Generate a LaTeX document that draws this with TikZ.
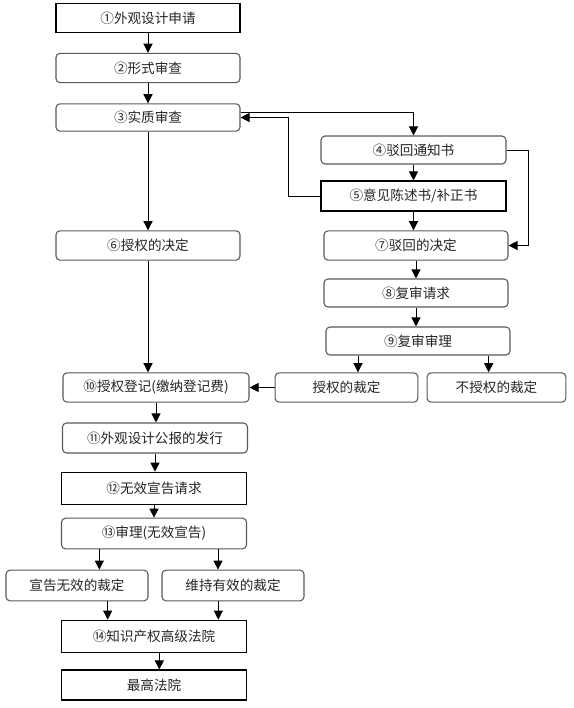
\documentclass[tikz,border=0pt]{standalone}
\usepackage{fontspec}
\newfontfamily\cjk{Noto Sans CJK SC}
\usepackage{tikz}
\usetikzlibrary{arrows.meta}

\begin{document}
\begin{tikzpicture}[x=0.75pt,y=-0.75pt,
  box/.style={draw=black,line width=0.8pt,fill=white,inner sep=0pt,text=black!85,font=\cjk\fontsize{10.2}{12}\selectfont,minimum width=138pt,minimum height=22pt},
  rbox/.style={box,draw=black!65,rounded corners=3pt},
  arr/.style={black,line width=0.7pt,-{Triangle[length=6.8pt,width=6.8pt]}}]
\useasboundingbox (0,0) rectangle (574,708);

\node[box] (b1) at (148,18) {①外观设计申请};
\node[rbox] (b2) at (148,68) {②形式审查};
\node[rbox,minimum height=20.5pt] (b3) at (148,117.5) {③实质审查};
\node[rbox,minimum width=138.75pt,minimum height=21pt] (b4) at (413.5,150) {④驳回通知书};
\node[box,minimum width=138.75pt,minimum height=22.5pt] (b5) at (413.5,196) {⑤意见陈述书/补正书};
\node[rbox] (b6) at (148,245.5) {⑥授权的决定};
\node[rbox] (b7) at (416,245.5) {⑦驳回的决定};
\node[rbox,minimum height=21pt] (b8) at (416,293) {⑧复审请求};
\node[rbox,minimum height=21pt] (b9) at (418,341) {⑨复审审理};
\node[rbox,minimum width=107pt] (grant) at (346.5,387.5) {授权的裁定};
\node[rbox,minimum width=104pt] (nogrant) at (496.5,387.5) {不授权的裁定};
\node[rbox,minimum width=139.5pt] (b10) at (156,387.5) {⑩授权登记(缴纳登记费)};
\node[rbox,minimum width=138.75pt,minimum height=22.5pt] (b11) at (155,438) {⑪外观设计公报的发行};
\node[box,minimum width=138.75pt,minimum height=24.5pt] (b12) at (154,488.5) {⑫无效宣告请求};
\node[rbox,minimum width=138.75pt,minimum height=23pt] (b13) at (154,533.5) {⑬审理(无效宣告)};
\node[rbox,minimum width=106.5pt,minimum height=23pt] (void) at (77,585.5) {宣告无效的裁定};
\node[rbox,minimum width=106.5pt,minimum height=23pt] (valid) at (233,585.5) {维持有效的裁定};
\node[box,minimum width=138.75pt,minimum height=24.5pt] (b14) at (154,636.5) {⑭知识产权高级法院};
\node[box,minimum width=138.75pt,minimum height=22.5pt] (b15) at (154,685) {最高法院};

\coordinate (back) at (288,117.5);
\coordinate (side) at (528,150);

\draw[arr] (b1) -- (b2);
\draw[arr] (b2) -- (b3);
\draw[arr] ([yshift=4pt]b3.east) -| (b4.north);
\draw[arr] (b5.west) -| (back) -- (b3.east);
\draw[arr] (b4.east) -- (side) |- (b7.east);
\draw[arr] (b4) -- (b5);
\draw[arr] (b5.south) -- (b5.south |- b7.north);
\draw[arr] (b3) -- (b6);
\draw[arr] (b6.south) -- (b6.south |- b10.north);
\draw[arr] (b7) -- (b8);
\draw[arr] (b8.south) -- (b8.south |- b9.north);
\draw[arr] ([xshift=-45pt]b9.south) -- ([xshift=-45pt]b9.south |- grant.north);
\draw[arr] ([xshift=53pt]b9.south) -- ([xshift=53pt]b9.south |- nogrant.north);
\draw[arr] (grant) -- (b10);
\draw[arr] (b10.south) -- (b10.south |- b11.north);
\draw[arr] (b11.south) -- (b11.south |- b12.north);
\draw[arr] (b12) -- (b13);
\draw[arr] ([xshift=-41pt]b13.south) -- ([xshift=-41pt]b13.south |- void.north);
\draw[arr] ([xshift=48pt]b13.south) -- ([xshift=48pt]b13.south |- valid.north);
\draw[arr] ([xshift=23pt]void.south) -- ([xshift=23pt]void.south |- b14.north);
\draw[arr] ([xshift=-11pt]valid.south) -- ([xshift=-11pt]valid.south |- b14.north);
\draw[arr] ([xshift=4pt]b14.south) -- ([xshift=4pt]b14.south |- b15.north);
\end{tikzpicture}
\end{document}
